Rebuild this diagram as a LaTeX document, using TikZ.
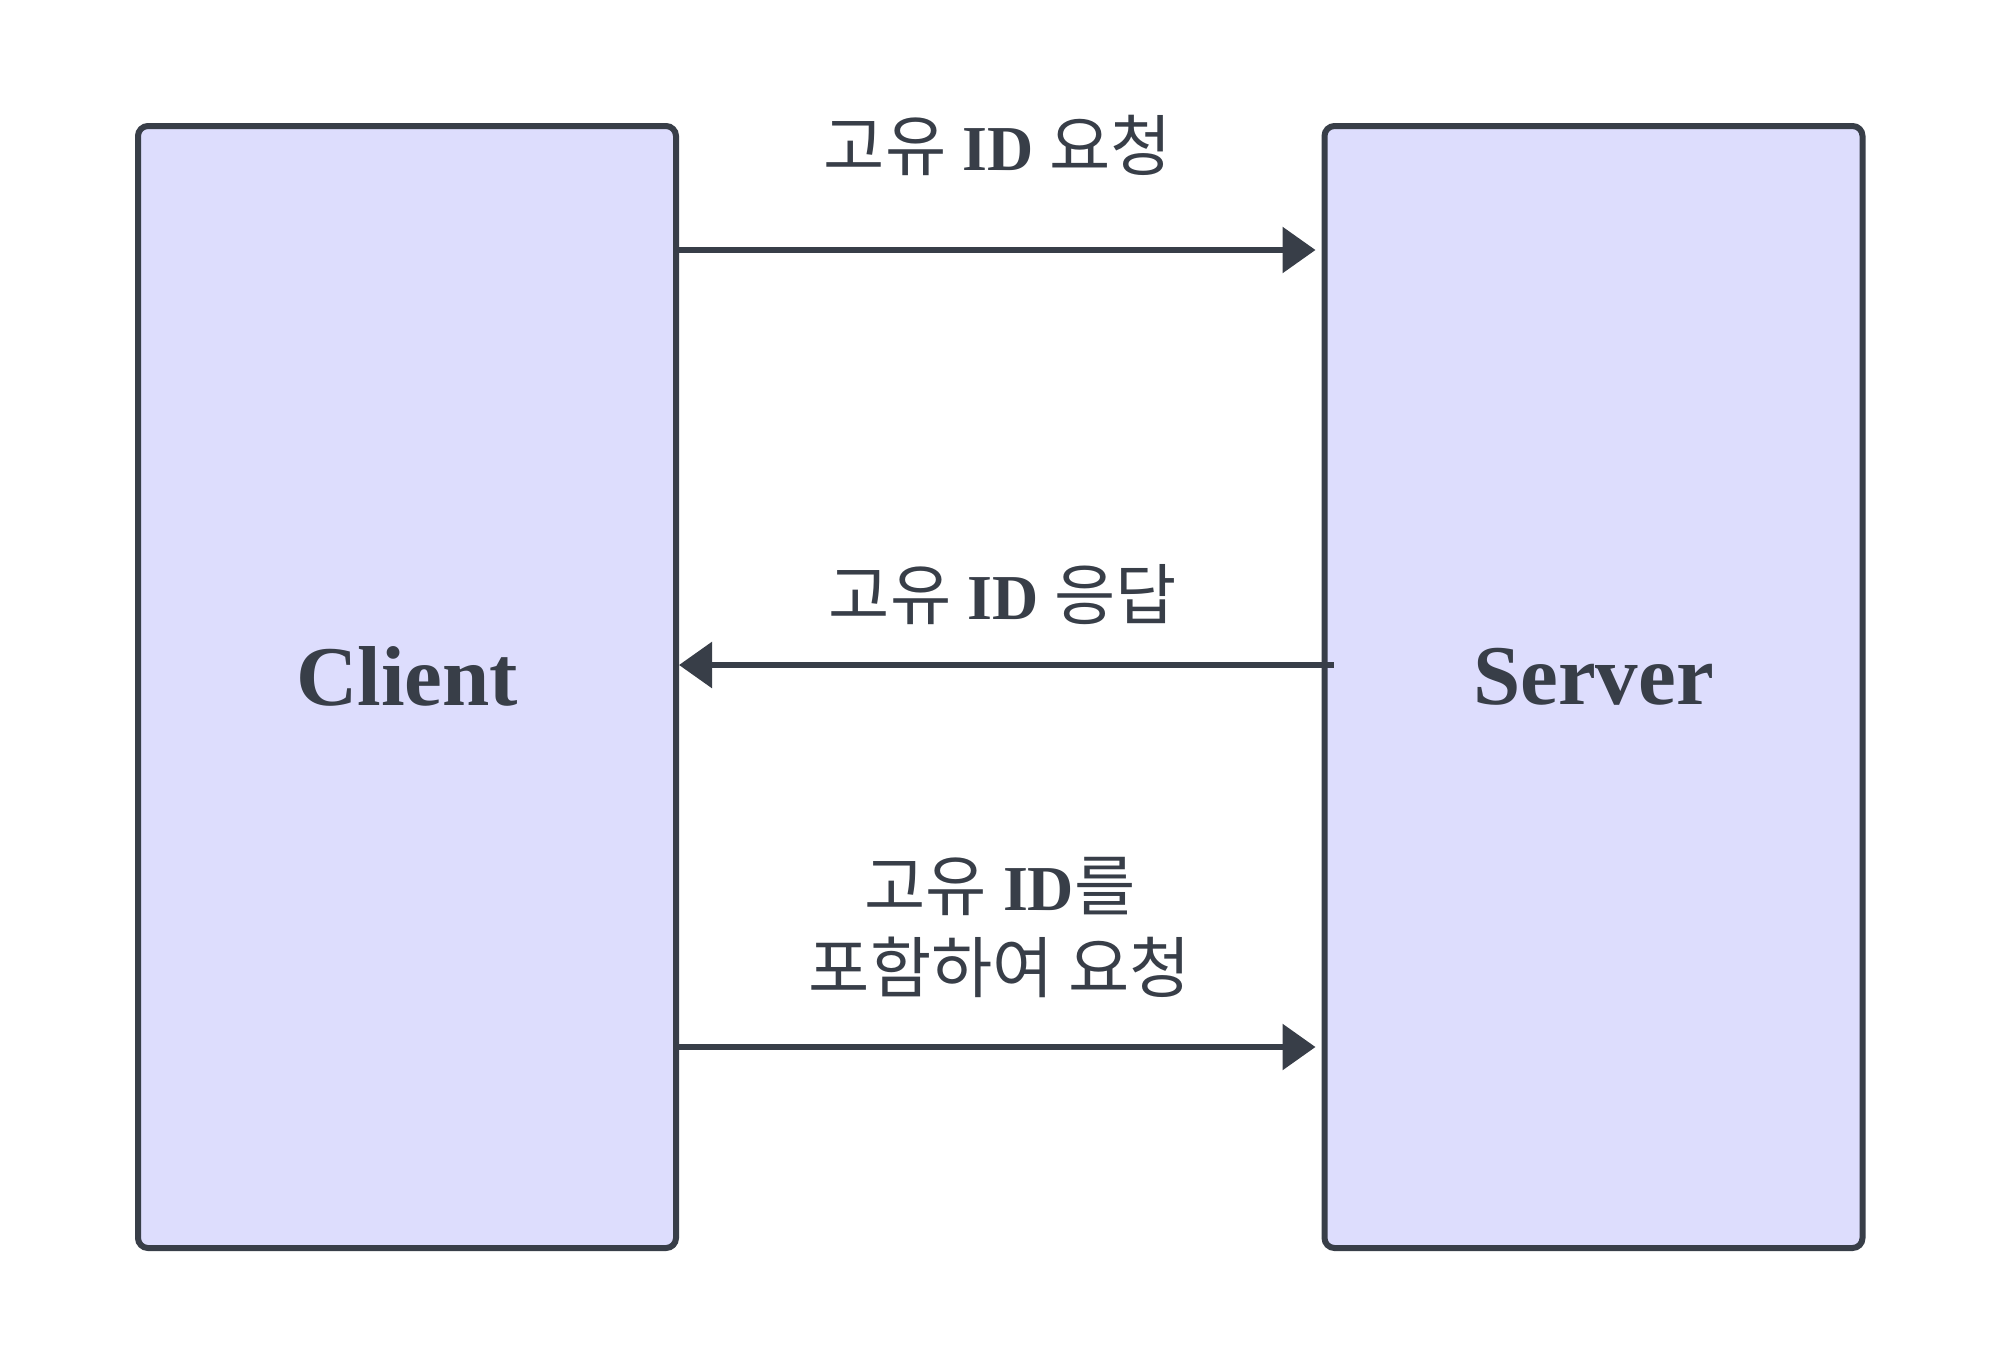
\documentclass[tikz,border=0pt]{standalone}
\usepackage{fontspec}
\setmainfont{Liberation Serif}
\newfontfamily\kr[Scale=1.04]{Noto Sans CJK KR}
\usetikzlibrary{arrows.meta}
\definecolor{boxfill}{RGB}{221,221,253}
\definecolor{ink}{RGB}{56,62,72}
\newcommand{\ko}[1]{{\kr #1}}
\tikzset{
  party/.style={draw=ink, fill=boxfill, line width=3pt, rounded corners=5pt,
    minimum width=269pt, minimum height=561pt, inner sep=0pt, text=ink,
    font=\fontsize{42.5pt}{50pt}\selectfont\bfseries, text depth=11pt},
  msg/.style={draw=ink, line width=3pt, -{Triangle[length=16.5pt,width=22.5pt]}},
  msglabel/.style={text=ink, anchor=base, align=center,
    font=\fontsize{32pt}{41pt}\selectfont}
}
\begin{document}
\begin{tikzpicture}[x=0.5pt,y=-0.5pt]
\useasboundingbox (0,0) rectangle (2000,1359);
\node[party](client) at (407,687){Client};
\node[party](server) at (1593.5,687){Server};
\coordinate (r1) at (1000,250);
\coordinate (r2) at (1000,665);
\coordinate (r3) at (1000,1047);
\draw[msg] (client.east |- r1) -- ([xshift=-3pt]server.west |- r1);
\draw[msg] ([xshift=6pt]server.west |- r2) -- (client.east |- r2);
\draw[msg] (client.east |- r3) -- ([xshift=-3pt]server.west |- r3);
\node[msglabel](ask) at (998,170){\ko{고유} \textbf{ID} \ko{요청}};
\node[msglabel](reply) at (1003,619){\ko{고유} \textbf{ID} \ko{응답}};
\node[msglabel](askagain) at (1000,992){\ko{고유} \textbf{ID}\ko{를}\\\ko{포함하여 요청}};
\end{tikzpicture}
\end{document}
